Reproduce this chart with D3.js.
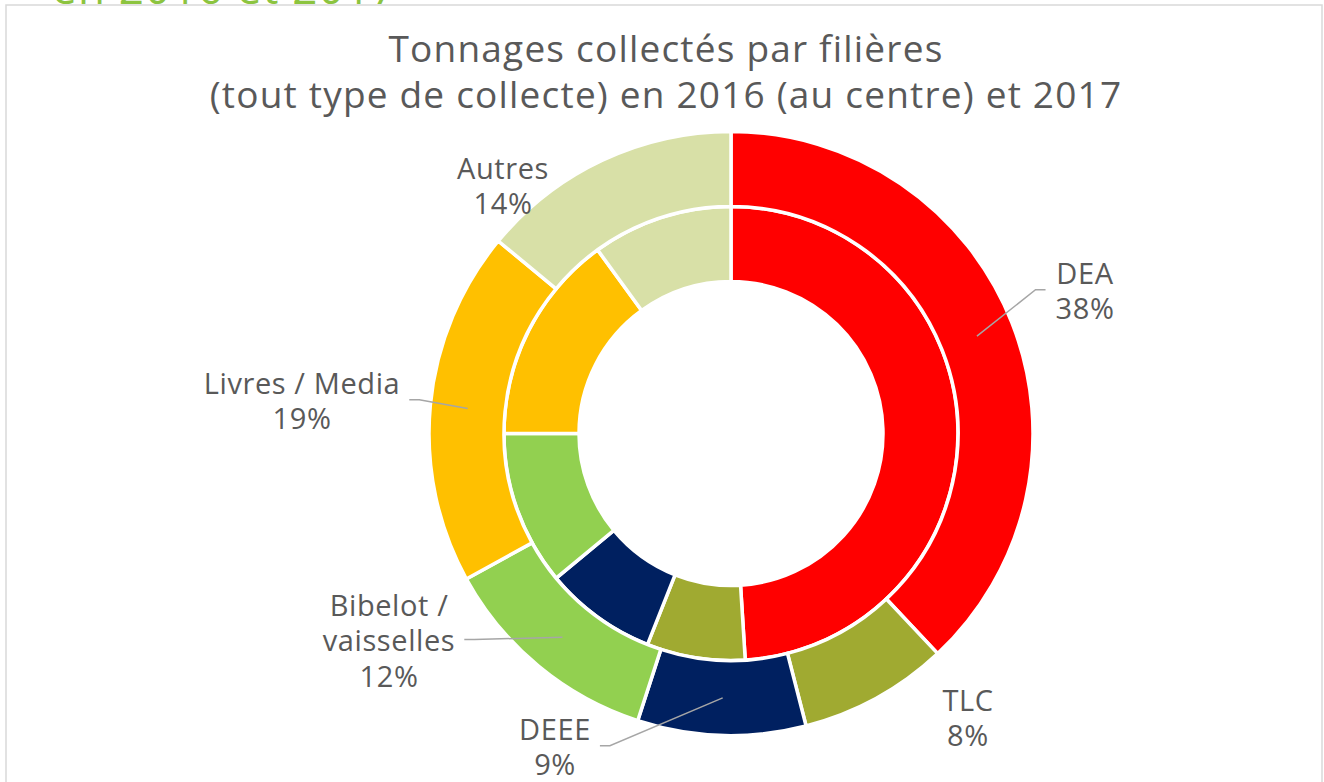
<!DOCTYPE html>
<html>
<head>
<meta charset="utf-8">
<script src="https://cdn.jsdelivr.net/npm/d3@7"></script>
<style>
  html, body { margin: 0; padding: 0; background: #fff; }
  svg { display: block; }
</style>
</head>
<body>
<div id="chart"></div>
<script>
// categories, clockwise from 12 o'clock
const categories = ["DEA", "TLC", "DEEE", "Bibelot / vaisselles", "Livres / Media", "Autres"];
// 2017 shares (outer ring, labelled)
const values2017 = [38, 8, 9, 12, 19, 14];
// 2016 shares (inner ring)
const values2016 = [49, 7, 8, 11, 15, 10];
const labelLines = [["DEA"], ["TLC"], ["DEEE"], ["Bibelot /", "vaisselles"], ["Livres / Media"], ["Autres"]];
const colors = ["#ff0000", "#a0aa31", "#002060", "#92d050", "#ffc000", "#d8e0a7"];

// label layout (offsets from the donut centre to the first baseline) and leader lines
const labelPos = [[354, -150], [237, 277], [-176, 306], [-342, 182], [-429, -40], [-228, -255]];
const hasLeader = [true, false, true, true, true, false];

const width = 1324, height = 782;
const cx = 731, cy = 433.5;
const textColor = "#595959";
const font = "'Open Sans', 'DejaVu Sans', sans-serif";

const svg = d3.select("#chart").append("svg")
  .attr("width", width)
  .attr("height", height);

// cut-off heading above the frame
svg.append("text")
  .attr("x", 52)
  .attr("y", 4)
  .attr("font-family", font)
  .attr("font-size", 44)
  .attr("letter-spacing", 1.2)
  .attr("fill", "#8cc43f")
  .text("en 2016 et 2017");

// chart frame
svg.append("rect")
  .attr("x", 6).attr("y", 5)
  .attr("width", 1316).attr("height", 800)
  .attr("fill", "#fff")
  .attr("stroke", "#d9d9d9")
  .attr("stroke-width", 1.5);

// title
const title = svg.append("text")
  .attr("x", 666)
  .attr("text-anchor", "middle")
  .attr("font-family", font)
  .attr("font-size", 37)
  .attr("letter-spacing", 1.2)
  .attr("fill", textColor);
title.append("tspan").attr("x", 666).attr("y", 62).text("Tonnages collectés par filières");
title.append("tspan").attr("x", 666).attr("y", 108).text("(tout type de collecte) en 2016 (au centre) et 2017");

const pie = d3.pie().sort(null).value(d => d);
const outerArc = d3.arc().innerRadius(227).outerRadius(302);
const innerArc = d3.arc().innerRadius(152).outerRadius(227);

const g = svg.append("g").attr("transform", `translate(${cx},${cy})`);

g.append("g").selectAll("path")
  .data(pie(values2016))
  .join("path")
  .attr("d", innerArc)
  .attr("fill", (d, i) => colors[i])
  .attr("stroke", "#fff")
  .attr("stroke-width", 3.5);

const outerSlices = pie(values2017);
g.append("g").selectAll("path")
  .data(outerSlices)
  .join("path")
  .attr("d", outerArc)
  .attr("fill", (d, i) => colors[i])
  .attr("stroke", "#fff")
  .attr("stroke-width", 3.5);

// labels
const lineH = 35.5;
const labels = g.append("g");
outerSlices.forEach((s, i) => {
  const [lx, ly] = labelPos[i];
  const t = labels.append("text")
    .attr("text-anchor", "middle")
    .attr("font-family", font)
    .attr("font-size", 29)
    .attr("letter-spacing", 0.6)
    .attr("fill", textColor);
  const lines = labelLines[i].concat([values2017[i] + "%"]);
  lines.forEach((ln, k) => {
    t.append("tspan").attr("x", lx).attr("y", ly + k * lineH).text(ln);
  });

  if (hasLeader[i]) {
    const bb = t.node().getBBox();
    const [px, py] = outerArc.centroid(s);
    const right = lx > px;
    const ex = right ? bb.x - 10 : bb.x + bb.width + 9;
    const ey = bb.y + bb.height / 2;
    const elbow = right ? ex - 10 : ex + 10;
    labels.insert("polyline", "text")
      .attr("points", [[ex, ey], [elbow, ey], [px, py]].map(p => p.join(",")).join(" "))
      .attr("fill", "none")
      .attr("stroke", "#a6a6a6")
      .attr("stroke-width", 1.5);
  }
});
</script>
</body>
</html>
